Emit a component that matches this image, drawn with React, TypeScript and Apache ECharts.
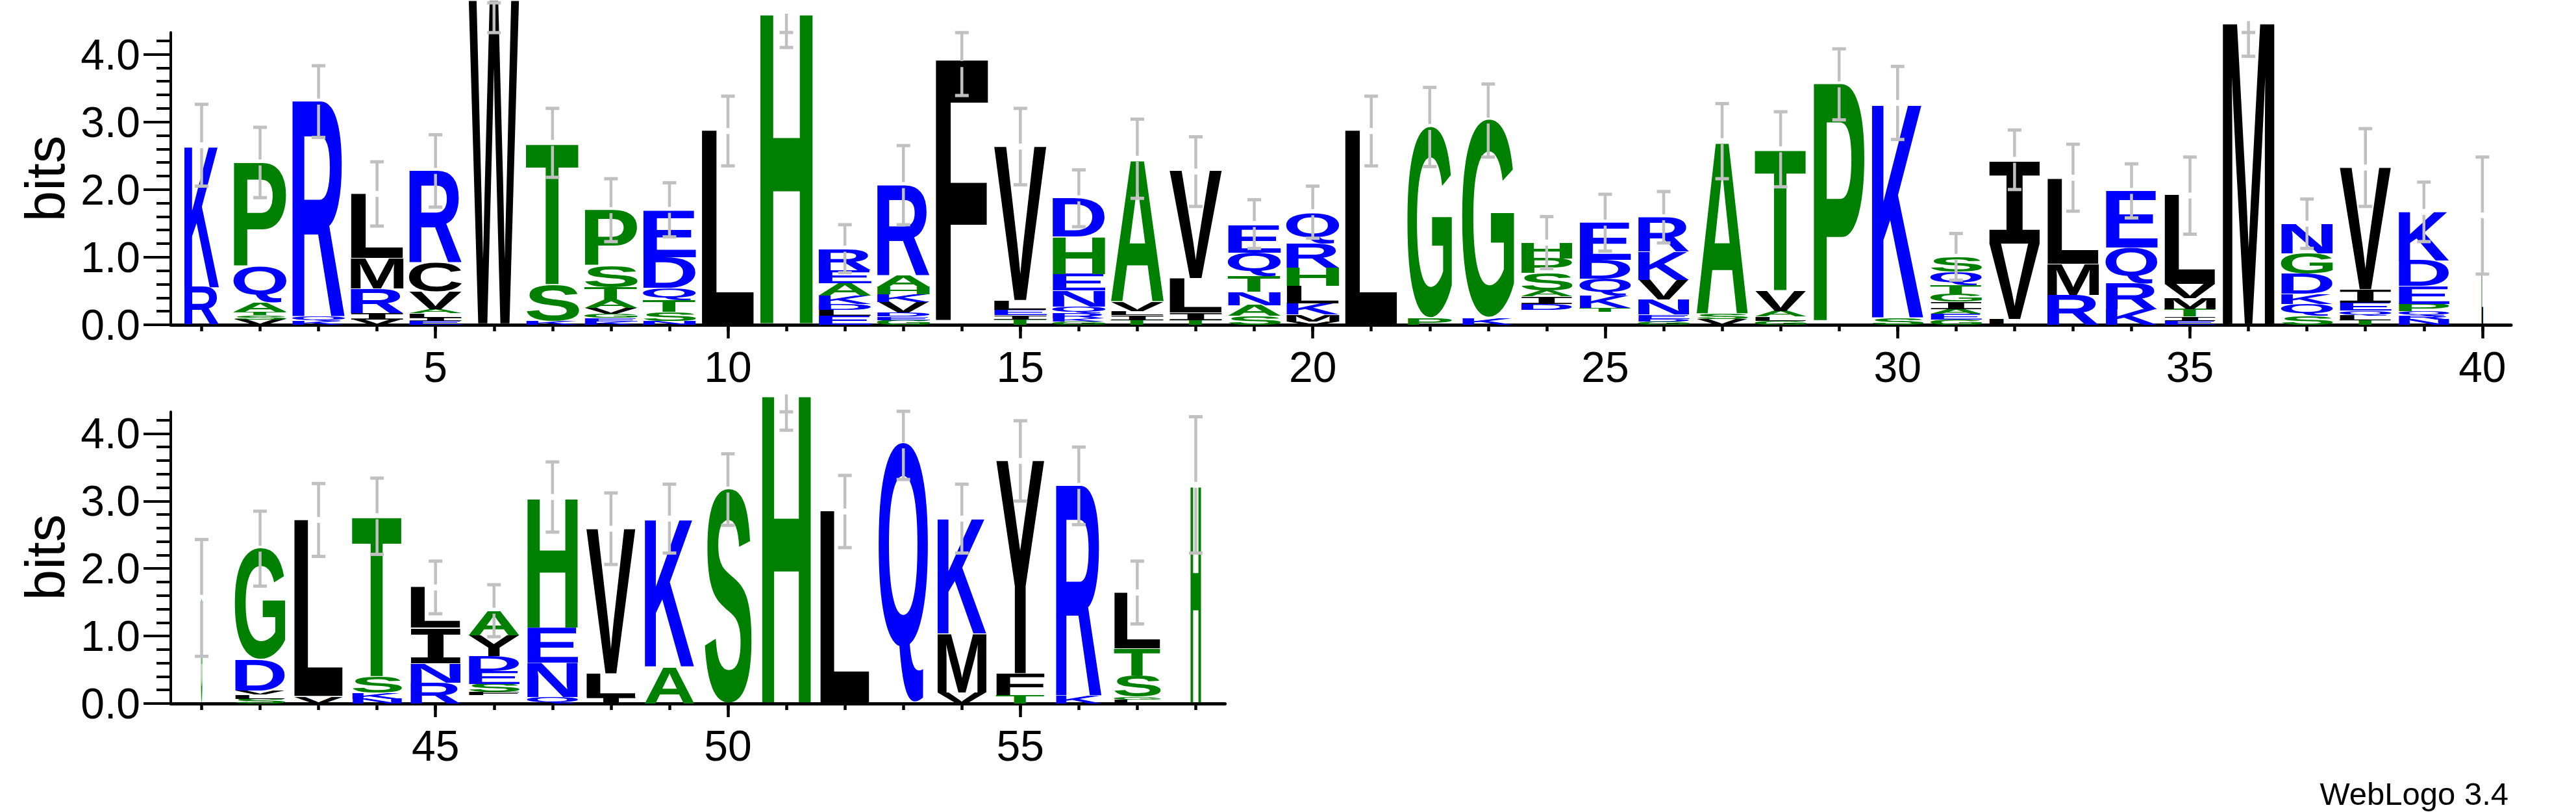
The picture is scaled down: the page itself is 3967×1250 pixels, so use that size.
import React, { useEffect, useRef } from "react";
import * as echarts from "echarts";

// ---------------- DATA ----------------
// Letters of every stack, listed bottom -> top (" " = empty space in the stack)
const stackLetters: string[] = [
  "RK", "VSTAQP", "KQR", "VIRML", "EILAVCR", "W", "KST", "KEGVATSP", "NSTQDE", "L",
  "H", "ELDKAER", "GEDVKHAR", "F", "TIELV", "GKRQNEHD", "TILVA", "TILV", "SANTQE", "VMKLHRQ",
  "L", "PG", "KG", " DIASPH", " TKQDE", "GDENVKR", "VSA", "GLAVT", "P", "SK",
  "GEAIGTQS", "LVI", "RML", "KRQE", "EITMVL", "M", "SQKDGN", "TLQEIV", "NRQPEDK", "L",
  "G", "SLVDG", "VL", "NKST", "RNIL", " FSEDYA", "QNEH", "ILV", "AK", "S",
  "H", "L", "Q", "VMK", "TFY", "KR", "LGSTL", "H",
];

// Height (bits) of every letter, same order as stackLetters
const stackHeights: number[][] = [
  [0.55, 2.10],
  [0.08, 0.06, 0.05, 0.14, 0.52, 1.54],
  [0.06, 0.06, 3.18],
  [0.08, 0.09, 0.36, 0.45, 0.95],
  [0.06, 0.05, 0.06, 0.06, 0.26, 0.43, 1.35],
  [4.78],
  [0.06, 0.53, 2.09],
  [0.05, 0.05, 0.06, 0.09, 0.12, 0.18, 0.32, 0.82],
  [0.06, 0.13, 0.17, 0.18, 0.46, 0.69],
  [2.86],
  [4.63],
  [0.13, 0.09, 0.09, 0.12, 0.18, 0.20, 0.31],
  [0.07, 0.05, 0.06, 0.16, 0.11, 0.11, 0.17, 1.33],
  [3.90],
  [0.08, 0.06, 0.08, 0.14, 2.27],
  [0.05, 0.05, 0.07, 0.10, 0.24, 0.24, 0.55, 0.56],
  [0.07, 0.07, 0.06, 0.14, 2.10],
  [0.07, 0.11, 0.50, 1.59],
  [0.13, 0.16, 0.20, 0.23, 0.35, 0.40],
  [0.05, 0.10, 0.17, 0.26, 0.27, 0.35, 0.45],
  [2.86],
  [0.10, 2.82],
  [0.10, 2.92],
  [0.22, 0.09, 0.11, 0.09, 0.25, 0.22, 0.23],
  [0.19, 0.06, 0.18, 0.25, 0.28, 0.55],
  [0.05, 0.04, 0.06, 0.22, 0.29, 0.42, 0.50],
  [0.08, 0.08, 2.55],
  [0.06, 0.06, 0.08, 0.30, 2.09],
  [3.55],
  [0.10, 3.18],
  [0.08, 0.08, 0.07, 0.11, 0.11, 0.14, 0.19, 0.22],
  [0.08, 1.12, 1.23],
  [0.44, 0.46, 1.26],
  [0.23, 0.38, 0.53, 0.83],
  [0.06, 0.06, 0.11, 0.16, 0.21, 1.31],
  [4.50],
  [0.13, 0.18, 0.15, 0.29, 0.30, 0.44],
  [0.07, 0.07, 0.07, 0.12, 0.19, 1.80],
  [0.08, 0.06, 0.06, 0.11, 0.26, 0.38, 0.72],
  [1.57],
  [1.55],
  [0.07, 0.06, 0.06, 0.46, 1.63],
  [0.10, 2.61],
  [0.07, 0.09, 0.24, 2.38],
  [0.31, 0.29, 0.52, 0.60],
  [0.12, 0.05, 0.12, 0.19, 0.22, 0.31, 0.36],
  [0.09, 0.51, 0.52, 1.93],
  [0.10, 0.34, 2.14],
  [0.54, 2.20],
  [3.17],
  [4.60],
  [2.84],
  [3.85],
  [0.16, 0.87, 1.71],
  [0.12, 0.32, 3.15],
  [0.11, 3.11],
  [0.06, 0.04, 0.31, 0.40, 0.83],
  [3.24],
];

// Fraction of the column occupied (non-gap fraction) -> stack width
const columnOccupancy: number[] = [
  0.66, 1, 1, 1, 1, 0.95, 1, 1, 1, 1,
  1, 1, 1, 1, 1, 1, 1, 1, 1, 1,
  1, 0.84, 0.98, 0.97, 0.97, 0.97, 0.97, 0.97, 0.97, 0.98,
  0.97, 0.97, 0.98, 0.98, 0.97, 0.98, 0.98, 0.98, 0.96, 0.03,
  0.025, 0.95, 0.93, 0.94, 0.95, 0.96, 0.96, 0.94, 0.94, 0.89,
  0.93, 0.94, 0.93, 0.93, 0.92, 0.87, 0.88, 0.2,
];

const errorLow: number[] = [
  2.05, 1.88, 2.77, 1.46, 1.74, 4.32, 2.18, 1.23, 1.30, 2.35,
  4.10, 0.77, 1.48, 3.39, 2.07, 1.45, 1.87, 1.75, 1.13, 1.28,
  2.35, 2.34, 2.48, 0.83, 1.09, 1.21, 2.16, 2.04, 3.03, 2.74,
  0.66, 2.00, 1.68, 1.58, 1.34, 3.97, 1.13, 1.75, 1.23, 0.75,
  0.70, 1.74, 2.18, 2.21, 1.33, 0.99, 2.54, 2.06, 2.23, 2.64,
  4.05, 2.31, 3.32, 2.23, 3.00, 2.65, 1.18, 2.23,
];
const errorHigh: number[] = [
  3.26, 2.92, 3.83, 2.41, 2.81, 4.76, 3.20, 2.16, 2.10, 3.38,
  4.60, 1.48, 2.65, 4.32, 3.20, 2.29, 3.04, 2.78, 1.85, 2.05,
  3.38, 3.51, 3.56, 1.60, 1.93, 1.97, 3.27, 3.15, 4.08, 3.82,
  1.35, 2.88, 2.67, 2.38, 2.48, 4.49, 1.86, 2.90, 2.11, 2.48,
  2.43, 2.85, 3.26, 3.34, 2.11, 1.76, 3.58, 3.12, 3.25, 3.70,
  4.58, 3.38, 4.33, 3.25, 4.19, 3.80, 2.11, 4.25,
];

const topPanelTicks: number[] = [5, 10, 15, 20, 25, 30, 35, 40];
const bottomPanelTicks: number[] = [45, 50, 55];
const bitsTicks: number[] = [0, 1, 2, 3, 4];

// ---------------- STYLE CONSTANTS ----------------
const YMAX = 4.3219;
const FULL_WIDTH = 0.91;
const BLUE = "#0000ff";
const GREEN = "#008000";
const BLACK = "#000000";
const ERR = "#c0c0c0";
const AXIS_FONT = "Liberation Sans";
const LETTER_FONT = 'bold 100px "Liberation Sans"';
const MONO_FONT = 'bold 100px "Liberation Mono"';

const letterColor = (ch: string) =>
  "RKDENQ".includes(ch) ? BLUE : "SGHTAP".includes(ch) ? GREEN : BLACK;
const fontFor = (ch: string) => (ch === "I" ? MONO_FONT : LETTER_FONT);

// ---------------- GLYPH METRICS ----------------
const offsetCache = new Map<string, number>();
function centralToAlphabetic(font: string): number {
  if (offsetCache.has(font)) return offsetCache.get(font)!;
  const ns = "http://www.w3.org/2000/svg";
  const svg = document.createElementNS(ns, "svg");
  svg.setAttribute("width", "600");
  svg.setAttribute("height", "600");
  (svg as any).style.position = "absolute";
  (svg as any).style.left = "0px";
  (svg as any).style.top = "0px";
  (svg as any).style.visibility = "hidden";
  const t1 = document.createElementNS(ns, "text");
  t1.setAttribute("x", "0");
  t1.setAttribute("y", "300");
  t1.setAttribute("style", "font: " + font);
  t1.textContent = "H";
  const t2 = t1.cloneNode(true) as SVGTextElement;
  t2.setAttribute("dominant-baseline", "central");
  svg.appendChild(t1);
  svg.appendChild(t2);
  document.body.appendChild(svg);
  let off = 0;
  try {
    const b1 = (t1 as any).getBBox();
    const b2 = (t2 as any).getBBox();
    off = b2.y - b1.y;
  } catch (e) {
    off = 34;
  }
  document.body.removeChild(svg);
  offsetCache.set(font, off);
  return off;
}

type Metric = { left: number; right: number; inkTop: number; inkBottom: number };
const metricCache = new Map<string, Metric>();
function glyphMetrics(ch: string, font: string): Metric {
  const key = font + "|" + ch;
  if (metricCache.has(key)) return metricCache.get(key)!;
  const canvas = document.createElement("canvas");
  const ctx = canvas.getContext("2d")!;
  ctx.font = font;
  ctx.textAlign = "left";
  ctx.textBaseline = "alphabetic";
  const m = ctx.measureText(ch);
  const off = centralToAlphabetic(font);
  const res: Metric = {
    left: m.actualBoundingBoxLeft,
    right: m.actualBoundingBoxRight,
    inkTop: off - m.actualBoundingBoxAscent,
    inkBottom: off + m.actualBoundingBoxDescent,
  };
  metricCache.set(key, res);
  return res;
}

// ---------------- BUILD ----------------
type Glyph = { pos: number; y0: number; y1: number; ch: string; w: number };

function buildGlyphs(from: number, to: number): Glyph[] {
  const out: Glyph[] = [];
  for (let p = from; p <= to; p++) {
    const letters = stackLetters[p - 1];
    const heights = stackHeights[p - 1];
    let y = 0;
    for (let k = 0; k < letters.length; k++) {
      const h = heights[k];
      out.push({ pos: p, y0: y, y1: y + h, ch: letters[k], w: columnOccupancy[p - 1] });
      y += h;
    }
  }
  return out;
}

function makeLetterRenderer(glyphs: Glyph[]) {
  return (params: any, api: any) => {
    const g = glyphs[params.dataIndex];
    if (!g || g.ch.trim() === "") return null;
    const half = (FULL_WIDTH * g.w) / 2;
    const pA = api.coord([g.pos - half, g.y0]);
    const pB = api.coord([g.pos + half, g.y1]);
    const x0 = pA[0];
    const x1 = pB[0];
    const yBot = pA[1];
    const yTop = pB[1];
    const w = x1 - x0;
    const h = yBot - yTop;
    if (h <= 0.2 || w <= 0) return null;
    const font = fontFor(g.ch);
    const m = glyphMetrics(g.ch, font);
    const sx = w / (m.left + m.right);
    const sy = h / (m.inkBottom - m.inkTop);
    const fill = letterColor(g.ch);
    return {
      type: "text",
      x: x0 + sx * m.left,
      y: yTop - sy * m.inkTop,
      scaleX: sx,
      scaleY: sy,
      silent: true,
      style: {
        text: g.ch,
        x: 0,
        y: 0,
        font,
        fill,
        textFill: fill,
        align: "left",
        textAlign: "left",
        verticalAlign: "middle",
        textVerticalAlign: "middle",
      },
    };
  };
}

function renderErrorBar(params: any, api: any) {
  const pos = api.value(0);
  const lo = api.value(1);
  const hi = api.value(2);
  const cLo = api.coord([pos, lo]);
  const cHi = api.coord([pos, hi]);
  const cx = cLo[0];
  const over = hi > YMAX + 0.05 && lo < YMAX - 0.05;
  const capHiY = over ? api.coord([pos, YMAX])[1] : cHi[1];
  const ls = { stroke: ERR, lineWidth: 4.5 };
  const children: any[] = [];
  if (hi > YMAX + 0.02) {
    children.push({ type: "line", shape: { x1: cx, y1: cLo[1], x2: cx, y2: cHi[1] }, style: ls });
  } else {
    const mid = api.coord([pos, (lo + hi) / 2])[1];
    const gap = 4.6;
    children.push({ type: "line", shape: { x1: cx, y1: cLo[1], x2: cx, y2: mid + gap }, style: ls });
    children.push({ type: "line", shape: { x1: cx, y1: mid - gap, x2: cx, y2: cHi[1] }, style: ls });
  }
  const capStyle = { stroke: ERR, lineWidth: 5 };
  children.push({ type: "line", shape: { x1: cx - 10.5, y1: cLo[1], x2: cx + 10.5, y2: cLo[1] }, style: capStyle });
  children.push({ type: "line", shape: { x1: cx - 10.5, y1: capHiY, x2: cx + 10.5, y2: capHiY }, style: capStyle });
  return { type: "group", children };
}

function errorData(from: number, to: number) {
  const out: number[][] = [];
  for (let p = from; p <= to; p++) out.push([p, errorLow[p - 1], errorHigh[p - 1]]);
  return out;
}

function range(from: number, to: number) {
  const out: number[] = [];
  for (let p = from; p <= to; p++) out.push(p);
  return out;
}

function xAxesFor(gridIndex: number, min: number, max: number, majors: number[], all: number[]) {
  return [
    {
      gridIndex,
      type: "value",
      position: "bottom",
      min,
      max,
      axisLine: { show: true, onZero: false, lineStyle: { color: BLACK, width: 5 } },
      axisTick: { show: true, customValues: all, length: 10, lineStyle: { color: BLACK, width: 4.5 } },
      axisLabel: { show: false },
      splitLine: { show: false },
    },
    {
      gridIndex,
      type: "value",
      position: "bottom",
      min,
      max,
      axisLine: { show: false, onZero: false },
      axisTick: { show: true, customValues: majors, length: 21, lineStyle: { color: BLACK, width: 4.5 } },
      axisLabel: {
        show: true,
        customValues: majors,
        fontSize: 66,
        fontFamily: AXIS_FONT,
        color: BLACK,
        margin: 32,
      },
      splitLine: { show: false },
    },
  ];
}

function yAxisFor(gridIndex: number) {
  return {
    gridIndex,
    type: "value",
    position: "left",
    min: 0,
    max: YMAX,
    interval: 1,
    axisLine: { show: true, onZero: false, lineStyle: { color: BLACK, width: 4 } },
    axisTick: { show: true, customValues: bitsTicks, length: 42, lineStyle: { color: BLACK, width: 4 } },
    minorTick: { show: true, splitNumber: 5, length: 22, lineStyle: { color: BLACK, width: 4 } },
    axisLabel: {
      show: true,
      customValues: bitsTicks,
      formatter: (v: number) => v.toFixed(1),
      fontSize: 66,
      fontFamily: AXIS_FONT,
      color: BLACK,
      margin: 47,
    },
    splitLine: { show: false },
    minorSplitLine: { show: false },
  };
}

export default function App() {
  const ref = useRef<HTMLDivElement>(null);

  useEffect(() => {
    if (!ref.current) return;
    const chart = echarts.init(ref.current, undefined, { renderer: "svg" });

    const topGlyphs = buildGlyphs(1, 40);
    const bottomGlyphs = buildGlyphs(41, 58);

    const option: any = {
      animation: false,
      backgroundColor: "#ffffff",
      grid: [
        { left: 263, top: 50, width: 3604, height: 450 },
        { left: 263, top: 634, width: 1623.5, height: 449 },
      ],
      xAxis: [
        ...xAxesFor(0, 0.473, 40.49, topPanelTicks, range(1, 40)),
        ...xAxesFor(1, 40.473, 58.5, bottomPanelTicks, range(41, 58)),
      ],
      yAxis: [yAxisFor(0), yAxisFor(1)],
      series: [
        {
          type: "custom",
          xAxisIndex: 0,
          yAxisIndex: 0,
          clip: false,
          silent: true,
          z: 2,
          renderItem: makeLetterRenderer(topGlyphs),
          encode: { x: 0, y: [1, 2] },
          data: topGlyphs.map((g) => [g.pos, g.y0, g.y1]),
        },
        {
          type: "custom",
          xAxisIndex: 2,
          yAxisIndex: 1,
          clip: false,
          silent: true,
          z: 2,
          renderItem: makeLetterRenderer(bottomGlyphs),
          encode: { x: 0, y: [1, 2] },
          data: bottomGlyphs.map((g) => [g.pos, g.y0, g.y1]),
        },
        {
          type: "custom",
          xAxisIndex: 0,
          yAxisIndex: 0,
          clip: false,
          silent: true,
          z: 3,
          renderItem: renderErrorBar,
          encode: { x: 0, y: [1, 2] },
          data: errorData(1, 40),
        },
        {
          type: "custom",
          xAxisIndex: 2,
          yAxisIndex: 1,
          clip: false,
          silent: true,
          z: 3,
          renderItem: renderErrorBar,
          encode: { x: 0, y: [1, 2] },
          data: errorData(41, 58),
        },
      ],
      graphic: [
        {
          type: "text",
          x: 69,
          y: 275,
          rotation: Math.PI / 2,
          style: {
            text: "bits",
            font: '85px "Liberation Sans"',
            fill: BLACK,
            align: "center",
            textAlign: "center",
            verticalAlign: "middle",
            textVerticalAlign: "middle",
          },
        },
        {
          type: "text",
          x: 69,
          y: 858,
          rotation: Math.PI / 2,
          style: {
            text: "bits",
            font: '85px "Liberation Sans"',
            fill: BLACK,
            align: "center",
            textAlign: "center",
            verticalAlign: "middle",
            textVerticalAlign: "middle",
          },
        },
        {
          type: "text",
          x: 3863,
          y: 1222,
          style: {
            text: "WebLogo 3.4",
            font: '49px "Liberation Sans"',
            fill: BLACK,
            align: "right",
            textAlign: "right",
            verticalAlign: "middle",
            textVerticalAlign: "middle",
          },
        },
      ],
    };

    chart.setOption(option);
    return () => {
      chart.dispose();
    };
  }, []);

  return (
    <div
      ref={ref}
      style={{ position: "absolute", left: 0, top: 0, width: 3967, height: 1250, background: "#ffffff" }}
    />
  );
}
